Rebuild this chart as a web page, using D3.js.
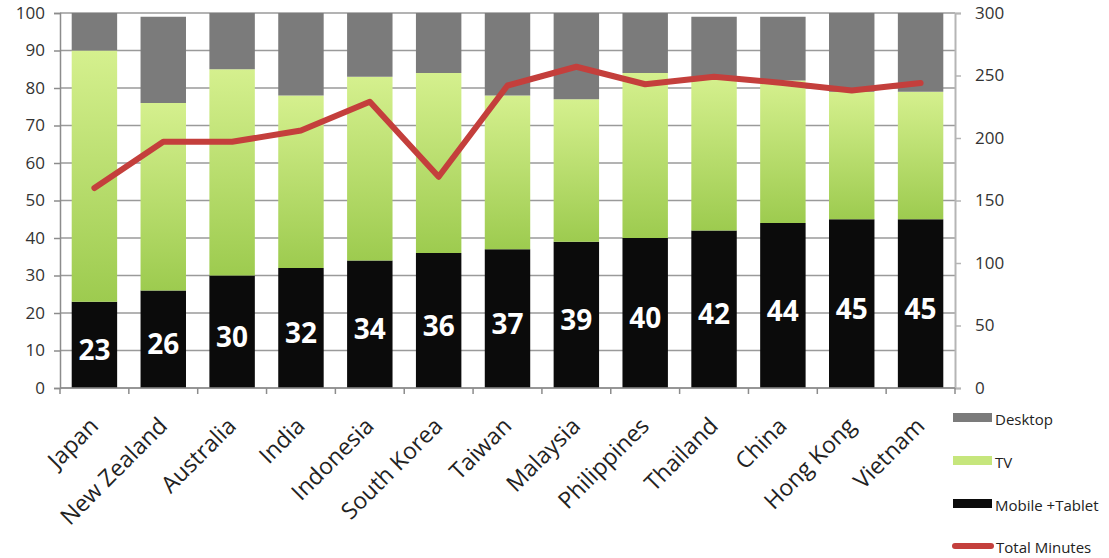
<!DOCTYPE html>
<html>
<head>
<meta charset="utf-8">
<script src="https://cdn.jsdelivr.net/npm/d3@7"></script>
<style>
  html, body { margin: 0; padding: 0; background: #fff; }
  svg { display: block; font-family: "Open Sans", sans-serif; }
</style>
</head>
<body>
<svg id="chart" width="1109" height="558"></svg>
<script>
// Share of screen time by device (%) and total daily minutes, by market
const countries = ["Japan", "New Zealand", "Australia", "India", "Indonesia", "South Korea",
  "Taiwan", "Malaysia", "Philippines", "Thailand", "China", "Hong Kong", "Vietnam"];
const mobileTablet = [23, 26, 30, 32, 34, 36, 37, 39, 40, 42, 44, 45, 45];
const tv = [67, 50, 55, 46, 49, 48, 41, 38, 44, 41, 38, 34, 34];
const desktop = [10, 23, 15, 22, 17, 16, 22, 23, 16, 16, 17, 21, 21];
const totalMinutes = [160, 197, 197, 206, 229, 169, 242, 257, 243, 249, 244, 238, 244];
const leftTicks = [0, 10, 20, 30, 40, 50, 60, 70, 80, 90, 100];
const rightTicks = [0, 50, 100, 150, 200, 250, 300];
const legendItems = ["Desktop", "TV", "Mobile +Tablet", "Total Minutes"];

const svg = d3.select("#chart");
const plot = { left: 60, right: 955, top: 13, bottom: 388 };

const x = d3.scaleBand().domain(countries)
  .range([plot.left, plot.right]).paddingInner(0.34).paddingOuter(0.17);
const y = d3.scaleLinear().domain([0, 100]).range([plot.bottom, plot.top]);
const y2 = d3.scaleLinear().domain([0, 300]).range([plot.bottom, plot.top]);

const colors = { desktop: "#7b7b7b", mobile: "#0b0b0b", line: "#c43f3c" };

// vertical gradient for the TV segment of each bar
const defs = svg.append("defs");
const grad = defs.append("linearGradient").attr("id", "tvGrad")
  .attr("x1", 0).attr("y1", 0).attr("x2", 0).attr("y2", 1);
grad.append("stop").attr("offset", "0%").attr("stop-color", "#d5f08e");
grad.append("stop").attr("offset", "100%").attr("stop-color", "#9dcb4f");

// horizontal gridlines
svg.append("g").selectAll("line").data(leftTicks).join("line")
  .attr("x1", plot.left).attr("x2", plot.right)
  .attr("y1", d => y(d)).attr("y2", d => y(d))
  .attr("stroke", "#9a9a9a").attr("stroke-width", 1.5);

// stacked bars
const stackData = countries.map((c, i) => ({
  country: c, mobile: mobileTablet[i], tv: tv[i], desktop: desktop[i]
}));
const keys = ["mobile", "tv", "desktop"];
const series = d3.stack().keys(keys)(stackData);
const fills = { mobile: colors.mobile, tv: "url(#tvGrad)", desktop: colors.desktop };

svg.append("g").selectAll("g").data(series).join("g")
  .attr("fill", s => fills[s.key])
  .selectAll("rect").data(s => s).join("rect")
  .attr("x", d => x(d.data.country))
  .attr("width", x.bandwidth())
  .attr("y", d => y(d[1]))
  .attr("height", d => y(d[0]) - y(d[1]));

// value labels inside the mobile + tablet segment
svg.append("g").selectAll("text").data(stackData).join("text")
  .attr("x", d => x(d.country) + x.bandwidth() / 2)
  .attr("y", d => (y(0) + y(d.mobile)) / 2 + 5)
  .attr("dy", "0.36em")
  .attr("text-anchor", "middle")
  .attr("fill", "#fff")
  .attr("font-weight", "bold")
  .attr("font-size", 28)
  .text(d => d.mobile);

// left axis
const leftAxis = svg.append("g").attr("transform", `translate(${plot.left},0)`)
  .call(d3.axisLeft(y).tickValues(leftTicks).tickSize(6).tickPadding(9));
leftAxis.select(".domain").attr("stroke", "#8c8c8c").attr("stroke-width", 1.5);
leftAxis.selectAll(".tick line").attr("stroke", "#8c8c8c").attr("stroke-width", 1.5);
leftAxis.selectAll("text").attr("font-size", 17).attr("fill", "#333")
  .attr("font-family", "Open Sans, sans-serif");

// right axis
const rightAxis = svg.append("g").attr("transform", `translate(${plot.right},0)`)
  .call(d3.axisRight(y2).tickValues(rightTicks).tickSize(6).tickPadding(14));
rightAxis.select(".domain").attr("stroke", "#b5b5b5").attr("stroke-width", 2);
rightAxis.selectAll(".tick line").attr("stroke", "#b5b5b5").attr("stroke-width", 1.5);
rightAxis.selectAll("text").attr("font-size", 17).attr("fill", "#333")
  .attr("font-family", "Open Sans, sans-serif");

// bottom axis: ticks on category boundaries
const boundaries = d3.range(countries.length + 1)
  .map(i => plot.left + i * x.step());
svg.append("line").attr("x1", plot.left).attr("x2", plot.right)
  .attr("y1", plot.bottom).attr("y2", plot.bottom)
  .attr("stroke", "#8c8c8c").attr("stroke-width", 1.5);
svg.append("g").selectAll("line").data(boundaries).join("line")
  .attr("x1", d => d).attr("x2", d => d)
  .attr("y1", plot.bottom).attr("y2", plot.bottom + 6)
  .attr("stroke", "#8c8c8c").attr("stroke-width", 1.5);

// rotated category labels
svg.append("g").selectAll("text").data(countries).join("text")
  .attr("transform", d => `translate(${x(d) + x.bandwidth() / 2 - 6},${plot.bottom + 28}) rotate(-45)`)
  .attr("text-anchor", "end")
  .attr("dy", "0.7em")
  .attr("font-size", 23)
  .attr("fill", "#222")
  .text(d => d);

// total minutes line
const line = d3.line()
  .x((d, i) => x(countries[i]) + x.bandwidth() / 2)
  .y(d => y2(d));
svg.append("path").datum(totalMinutes)
  .attr("d", line)
  .attr("fill", "none")
  .attr("stroke", colors.line)
  .attr("stroke-width", 6)
  .attr("stroke-linejoin", "round")
  .attr("stroke-linecap", "round");

// legend
const legendY = [418, 461, 504, 546];
const legend = svg.append("g").selectAll("g").data(legendItems).join("g")
  .attr("transform", (d, i) => `translate(953,${legendY[i]})`);
legend.each(function (d, i) {
  const g = d3.select(this);
  if (i === 3) {
    g.append("line").attr("x1", 2).attr("x2", 38).attr("y1", 0).attr("y2", 0)
      .attr("stroke", colors.line).attr("stroke-width", 6).attr("stroke-linecap", "round");
  } else {
    const fill = i === 0 ? colors.desktop : i === 1 ? "#c6e67c" : colors.mobile;
    g.append("rect").attr("x", 0).attr("y", -5).attr("width", 39).attr("height", 9)
      .attr("fill", fill);
  }
  g.append("text").attr("x", i === 3 ? 43 : 42).attr("y", 2).attr("dy", "0.35em")
    .attr("font-size", 15).attr("fill", "#222").text(d);
});
</script>
</body>
</html>
